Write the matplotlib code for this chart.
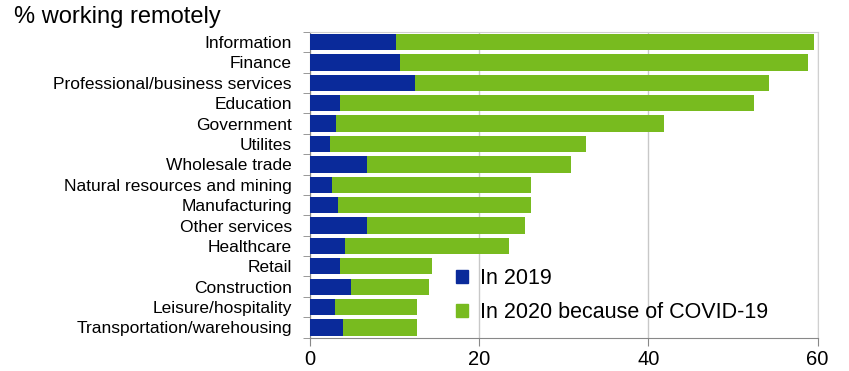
import matplotlib
matplotlib.use('Agg')
from matplotlib import pyplot as plt
from matplotlib.patches import Patch
import numpy as np

plt.rcParams['font.family'] = ['Liberation Sans', 'DejaVu Sans']

sectors = ['Information', 'Finance', 'Professional/business services', 'Education',
           'Government', 'Utilites', 'Wholesale trade', 'Natural resources and mining',
           'Manufacturing', 'Other services', 'Healthcare', 'Retail', 'Construction',
           'Leisure/hospitality', 'Transportation/warehousing']
# share working remotely before the pandemic
pct_2019 = [10.2, 10.7, 12.4, 3.6, 3.1, 2.4, 6.8, 2.6, 3.3, 6.8, 4.1, 3.5, 4.8, 3.0, 3.9]
# total share in 2020 (2019 level plus the COVID-19 increase)
pct_2020_total = [59.6, 58.9, 54.2, 52.5, 41.8, 32.6, 30.9, 26.1, 26.1, 25.4, 23.5, 14.4, 14.1, 12.7, 12.7]
x_ticks = [0, 20, 40, 60]

blue = '#0a2a9a'
green = '#78bb1f'

fig = plt.figure(figsize=(8.49, 3.71), dpi=100)
fig.subplots_adjust(left=0.365, right=0.963, top=0.914, bottom=0.09)
ax = fig.add_subplot()

y = np.arange(len(sectors))
base = np.array(pct_2019)
extra = np.array(pct_2020_total) - base
ax.barh(y, base, height=0.8, color=blue, zorder=3)
ax.barh(y, extra, left=base, height=0.8, color=green, zorder=3)

ax.set_ylim(len(sectors) - 0.5, -0.5)
ax.set_xlim(0, 60)
ax.set_xticks(x_ticks)
ax.tick_params(axis='x', labelsize=14.5, length=6, color='#888888', pad=3)

ax.set_yticks(y)
ax.set_yticklabels(sectors, fontsize=12.5)
ax.tick_params(axis='y', which='major', length=0, pad=13)
ax.set_yticks(np.arange(len(sectors) + 1) - 0.5, minor=True)
ax.tick_params(axis='y', which='minor', length=5, color='#888888')

ax.grid(axis='x', color='#c8c8c8', linewidth=1, zorder=0)
for side in ['top', 'right']:
    ax.spines[side].set_color('#d0d0d0')
for side in ['left', 'bottom']:
    ax.spines[side].set_color('#888888')

handles = [Patch(color=blue), Patch(color=green)]
ax.legend(handles, ['In 2019', 'In 2020 because of COVID-19'], loc='lower left',
          bbox_to_anchor=(0.25, -0.015), frameon=False, fontsize=15.5, handlelength=0.55,
          handleheight=0.55, handletextpad=0.55, labelspacing=0.6)

fig.text(0.017, 0.955, '% working remotely', fontsize=17, ha='left', va='center')

fig.savefig('out.png', dpi=100)
